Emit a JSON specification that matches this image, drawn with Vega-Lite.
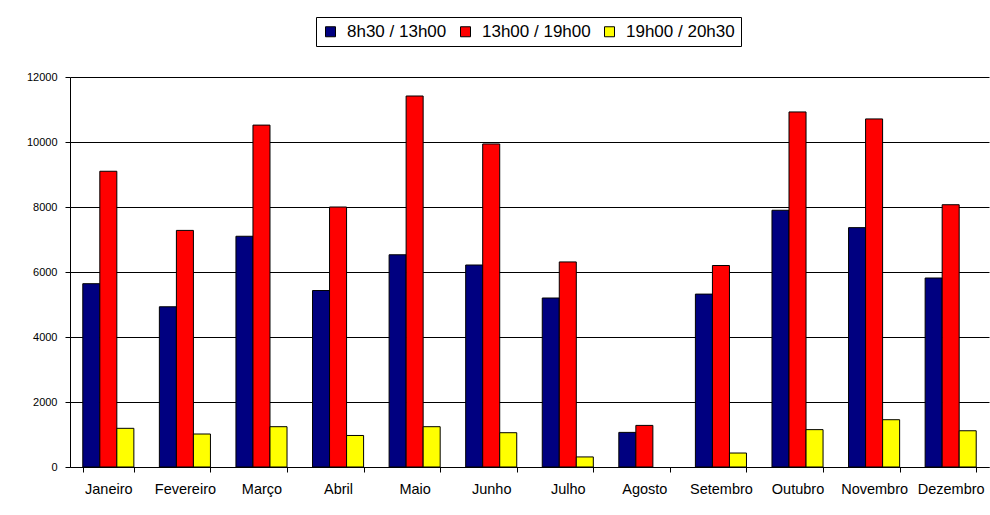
{
  "$schema": "https://vega.github.io/schema/vega-lite/v6.json",
  "width": 919,
  "height": 390,
  "autosize": {"type": "none"},
  "padding": {"left": 70, "top": 77, "right": 1, "bottom": 48},
  "background": "#ffffff",
  "data": {
    "values": [
      {"mes": "Janeiro", "periodo": "8h30 / 13h00", "valor": 5640},
      {"mes": "Janeiro", "periodo": "13h00 / 19h00", "valor": 9100},
      {"mes": "Janeiro", "periodo": "19h00 / 20h30", "valor": 1190},
      {"mes": "Fevereiro", "periodo": "8h30 / 13h00", "valor": 4930},
      {"mes": "Fevereiro", "periodo": "13h00 / 19h00", "valor": 7280},
      {"mes": "Fevereiro", "periodo": "19h00 / 20h30", "valor": 1015},
      {"mes": "Março", "periodo": "8h30 / 13h00", "valor": 7100},
      {"mes": "Março", "periodo": "13h00 / 19h00", "valor": 10520},
      {"mes": "Março", "periodo": "19h00 / 20h30", "valor": 1240},
      {"mes": "Abril", "periodo": "8h30 / 13h00", "valor": 5430},
      {"mes": "Abril", "periodo": "13h00 / 19h00", "valor": 8000},
      {"mes": "Abril", "periodo": "19h00 / 20h30", "valor": 970},
      {"mes": "Maio", "periodo": "8h30 / 13h00", "valor": 6530},
      {"mes": "Maio", "periodo": "13h00 / 19h00", "valor": 11415},
      {"mes": "Maio", "periodo": "19h00 / 20h30", "valor": 1240},
      {"mes": "Junho", "periodo": "8h30 / 13h00", "valor": 6215},
      {"mes": "Junho", "periodo": "13h00 / 19h00", "valor": 9940},
      {"mes": "Junho", "periodo": "19h00 / 20h30", "valor": 1055},
      {"mes": "Julho", "periodo": "8h30 / 13h00", "valor": 5200},
      {"mes": "Julho", "periodo": "13h00 / 19h00", "valor": 6310},
      {"mes": "Julho", "periodo": "19h00 / 20h30", "valor": 310},
      {"mes": "Agosto", "periodo": "8h30 / 13h00", "valor": 1065},
      {"mes": "Agosto", "periodo": "13h00 / 19h00", "valor": 1280},
      {"mes": "Setembro", "periodo": "8h30 / 13h00", "valor": 5320},
      {"mes": "Setembro", "periodo": "13h00 / 19h00", "valor": 6200},
      {"mes": "Setembro", "periodo": "19h00 / 20h30", "valor": 430},
      {"mes": "Outubro", "periodo": "8h30 / 13h00", "valor": 7900},
      {"mes": "Outubro", "periodo": "13h00 / 19h00", "valor": 10925},
      {"mes": "Outubro", "periodo": "19h00 / 20h30", "valor": 1150},
      {"mes": "Novembro", "periodo": "8h30 / 13h00", "valor": 7365},
      {"mes": "Novembro", "periodo": "13h00 / 19h00", "valor": 10710},
      {"mes": "Novembro", "periodo": "19h00 / 20h30", "valor": 1455},
      {"mes": "Dezembro", "periodo": "8h30 / 13h00", "valor": 5815},
      {"mes": "Dezembro", "periodo": "13h00 / 19h00", "valor": 8070},
      {"mes": "Dezembro", "periodo": "19h00 / 20h30", "valor": 1115}
    ]
  },
  "mark": {"type": "bar", "stroke": "#000000", "strokeWidth": 1},
  "encoding": {
    "x": {
      "field": "mes",
      "type": "nominal",
      "sort": ["Janeiro", "Fevereiro", "Março", "Abril", "Maio", "Junho", "Julho", "Agosto", "Setembro", "Outubro", "Novembro", "Dezembro"],
      "scale": {"paddingInner": 0.333, "paddingOuter": 0.167},
      "axis": {
        "title": null,
        "labelAngle": 0,
        "labelFont": "Liberation Sans",
        "labelFontSize": 14.5,
        "labelColor": "#000000",
        "labelPadding": 10,
        "tickBand": "extent",
        "tickSize": 5,
        "tickColor": "#000000",
        "domainColor": "#000000",
        "grid": false
      }
    },
    "xOffset": {
      "field": "periodo",
      "type": "nominal",
      "sort": ["8h30 / 13h00", "13h00 / 19h00", "19h00 / 20h30"],
      "scale": {"paddingInner": 0, "paddingOuter": 0}
    },
    "y": {
      "field": "valor",
      "type": "quantitative",
      "scale": {"domain": [0, 12000], "nice": false},
      "axis": {
        "title": null,
        "values": [0, 2000, 4000, 6000, 8000, 10000, 12000],
        "format": "d",
        "labelFont": "Liberation Sans",
        "labelFontSize": 11,
        "labelColor": "#000000",
        "labelPadding": 8,
        "tickSize": 5,
        "tickColor": "#000000",
        "domainColor": "#000000",
        "grid": true,
        "gridColor": "#000000",
        "gridOpacity": 1
      }
    },
    "color": {
      "field": "periodo",
      "type": "nominal",
      "scale": {
        "domain": ["8h30 / 13h00", "13h00 / 19h00", "19h00 / 20h30"],
        "range": ["#000080", "#ff0000", "#ffff00"]
      },
      "legend": {
        "title": null,
        "orient": "none",
        "direction": "horizontal",
        "legendX": 246,
        "legendY": -60,
        "symbolType": "square",
        "symbolSize": 100,
        "symbolStrokeColor": "#000000",
        "symbolStrokeWidth": 1,
        "symbolOpacity": 1,
        "labelFont": "Liberation Sans",
        "labelFontSize": 17,
        "labelColor": "#000000",
        "labelOffset": 8,
        "columnPadding": 10,
        "padding": 6,
        "strokeColor": "#000000",
        "fillColor": "#ffffff"
      }
    }
  },
  "config": {
    "view": {"stroke": null},
    "axis": {"domainWidth": 1, "tickWidth": 1, "gridWidth": 1}
  }
}
